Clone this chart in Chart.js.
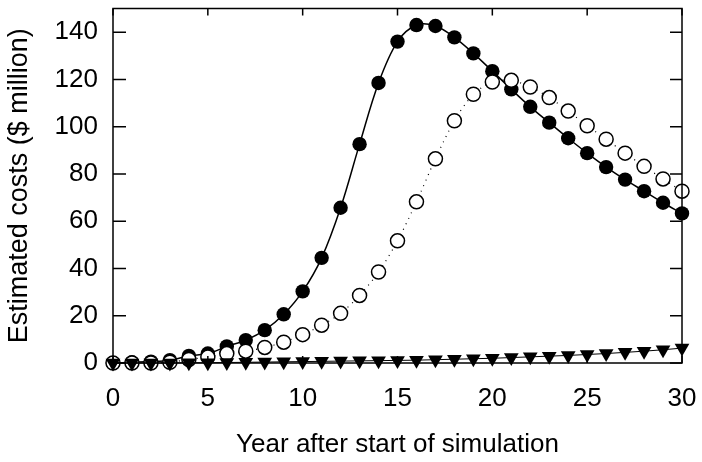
<!DOCTYPE html>
<html lang="en">
<head>
    <meta charset="UTF-8">
    <title>Estimated costs</title>
    <style>
        html, body { margin: 0; padding: 0; background: #fff; }
        #wrap { width: 702px; height: 462px; }
    </style>
</head>
<body>
    <div id="wrap"><canvas id="grafico"></canvas></div>

    <script src="https://cdn.jsdelivr.net/npm/chart.js"></script>
    <script>
        // Data
        const years = [0,1,2,3,4,5,6,7,8,9,10,11,12,13,14,15,16,17,18,19,20,21,22,23,24,25,26,27,28,29,30];
        const filledCosts = [0, 0.3, 0.6, 1.2, 3, 4, 7, 9.7, 13.9, 20.6, 30.3, 44.5, 65.7, 92.6, 118.5, 136,
            143, 142.6, 137.8, 131, 123.5, 115.8, 108.4, 101.7, 95.1, 88.8, 82.9, 77.6, 72.7, 67.8, 63.3];
        const openCosts = [0, 0, 0, 0.3, 1.5, 2.5, 4, 5, 6.6, 8.8, 12, 16, 21, 28.6, 38.5, 51.7,
            68.2, 86.4, 102.5, 113.7, 118.9, 119.6, 116.8, 112.3, 106.6, 100.4, 94.7, 88.8, 83.2, 77.9, 72.7];
        const triangleCosts = [0, 0, 0, 0, 0.1, 0.1, 0.2, 0.3, 0.4, 0.5, 0.6, 0.7, 0.8, 0.9, 1.0, 1.1,
            1.2, 1.4, 1.6, 1.8, 2.0, 2.3, 2.6, 2.9, 3.2, 3.6, 4.0, 4.5, 5.0, 5.6, 6.3];
        const xTicks = [0, 5, 10, 15, 20, 25, 30];
        const yTicks = [0, 20, 40, 60, 80, 100, 120, 140];

        const pontos = arr => years.map((x, i) => ({ x: x, y: arr[i] }));
        const familia = 'Arial, "Liberation Sans", sans-serif';
        const fonteTicks = { family: familia, size: 26 };

        // no extra room for label overhang, chart area stays where we put it
        function semPadding(scale) {
            scale.paddingTop = 0; scale.paddingBottom = 0;
            scale.paddingLeft = 0; scale.paddingRight = 0;
        }

        // frame and inward tick marks
        const moldura = {
            id: 'moldura',
            afterDraw(chart) {
                const { ctx, chartArea: a, scales } = chart;
                ctx.save();
                ctx.strokeStyle = '#000';
                ctx.lineWidth = 1.5;
                ctx.strokeRect(a.left, a.top, a.right - a.left, a.bottom - a.top);
                ctx.beginPath();
                yTicks.forEach(v => {
                    const y = scales.y.getPixelForValue(v);
                    ctx.moveTo(a.left, y); ctx.lineTo(a.left + 13, y);
                    ctx.moveTo(a.right, y); ctx.lineTo(a.right - 12, y);
                });
                xTicks.forEach(v => {
                    const x = scales.x.getPixelForValue(v);
                    ctx.moveTo(x, a.top); ctx.lineTo(x, a.top + 7);
                    ctx.moveTo(x, a.bottom); ctx.lineTo(x, a.bottom - 7);
                });
                ctx.stroke();
                ctx.restore();
            }
        };

        new Chart(document.getElementById('grafico'), {
            type: 'line',
            data: {
                datasets: [
                    {
                        data: pontos(triangleCosts),
                        borderColor: '#000',
                        borderWidth: 1,
                        backgroundColor: '#000',
                        pointStyle: 'triangle',
                        rotation: 180,
                        pointRadius: 8.5,
                        pointBorderWidth: 0,
                        tension: 0,
                        order: 1
                    },
                    {
                        data: pontos(openCosts),
                        borderColor: '#000',
                        borderWidth: 1.2,
                        borderDash: [1, 5],
                        backgroundColor: '#fff',
                        pointBackgroundColor: '#fff',
                        pointBorderColor: '#000',
                        pointBorderWidth: 1.5,
                        pointRadius: 7,
                        tension: 0.3,
                        order: 2
                    },
                    {
                        data: pontos(filledCosts),
                        borderColor: '#000',
                        borderWidth: 1.5,
                        backgroundColor: '#000',
                        pointRadius: 7.2,
                        pointBorderWidth: 0,
                        tension: 0.35,
                        order: 3
                    }
                ]
            },
            options: {
                responsive: true,
                maintainAspectRatio: false,
                animation: false,
                clip: false,
                layout: { padding: { top: 6, right: 20, left: 0, bottom: 0 } },
                plugins: { legend: { display: false }, tooltip: { enabled: false } },
                scales: {
                    x: {
                        type: 'linear',
                        min: 0, max: 30,
                        border: { display: false },
                        grid: { display: false, drawTicks: false },
                        ticks: { color: '#000', font: fonteTicks, padding: 20 },
                        title: {
                            display: true, text: 'Year after start of simulation', color: '#000',
                            font: { family: familia, size: 26 }, padding: { top: 12, bottom: 2 }
                        },
                        afterBuildTicks(scale) { scale.ticks = xTicks.map(v => ({ value: v })); },
                        afterFit(scale) { scale.height = 99; semPadding(scale); }
                    },
                    y: {
                        min: 0, max: 150,
                        border: { display: false },
                        grid: { display: false, drawTicks: false },
                        ticks: { color: '#000', font: fonteTicks, padding: 15 },
                        title: {
                            display: true, text: 'Estimated costs ($ million)', color: '#000',
                            font: { family: familia, size: 27 }, padding: { top: 3, bottom: 0 }
                        },
                        afterBuildTicks(scale) { scale.ticks = yTicks.map(v => ({ value: v })); },
                        afterFit(scale) { scale.width = 113; semPadding(scale); }
                    }
                }
            },
            plugins: [moldura]
        });
    </script>
</body>
</html>
